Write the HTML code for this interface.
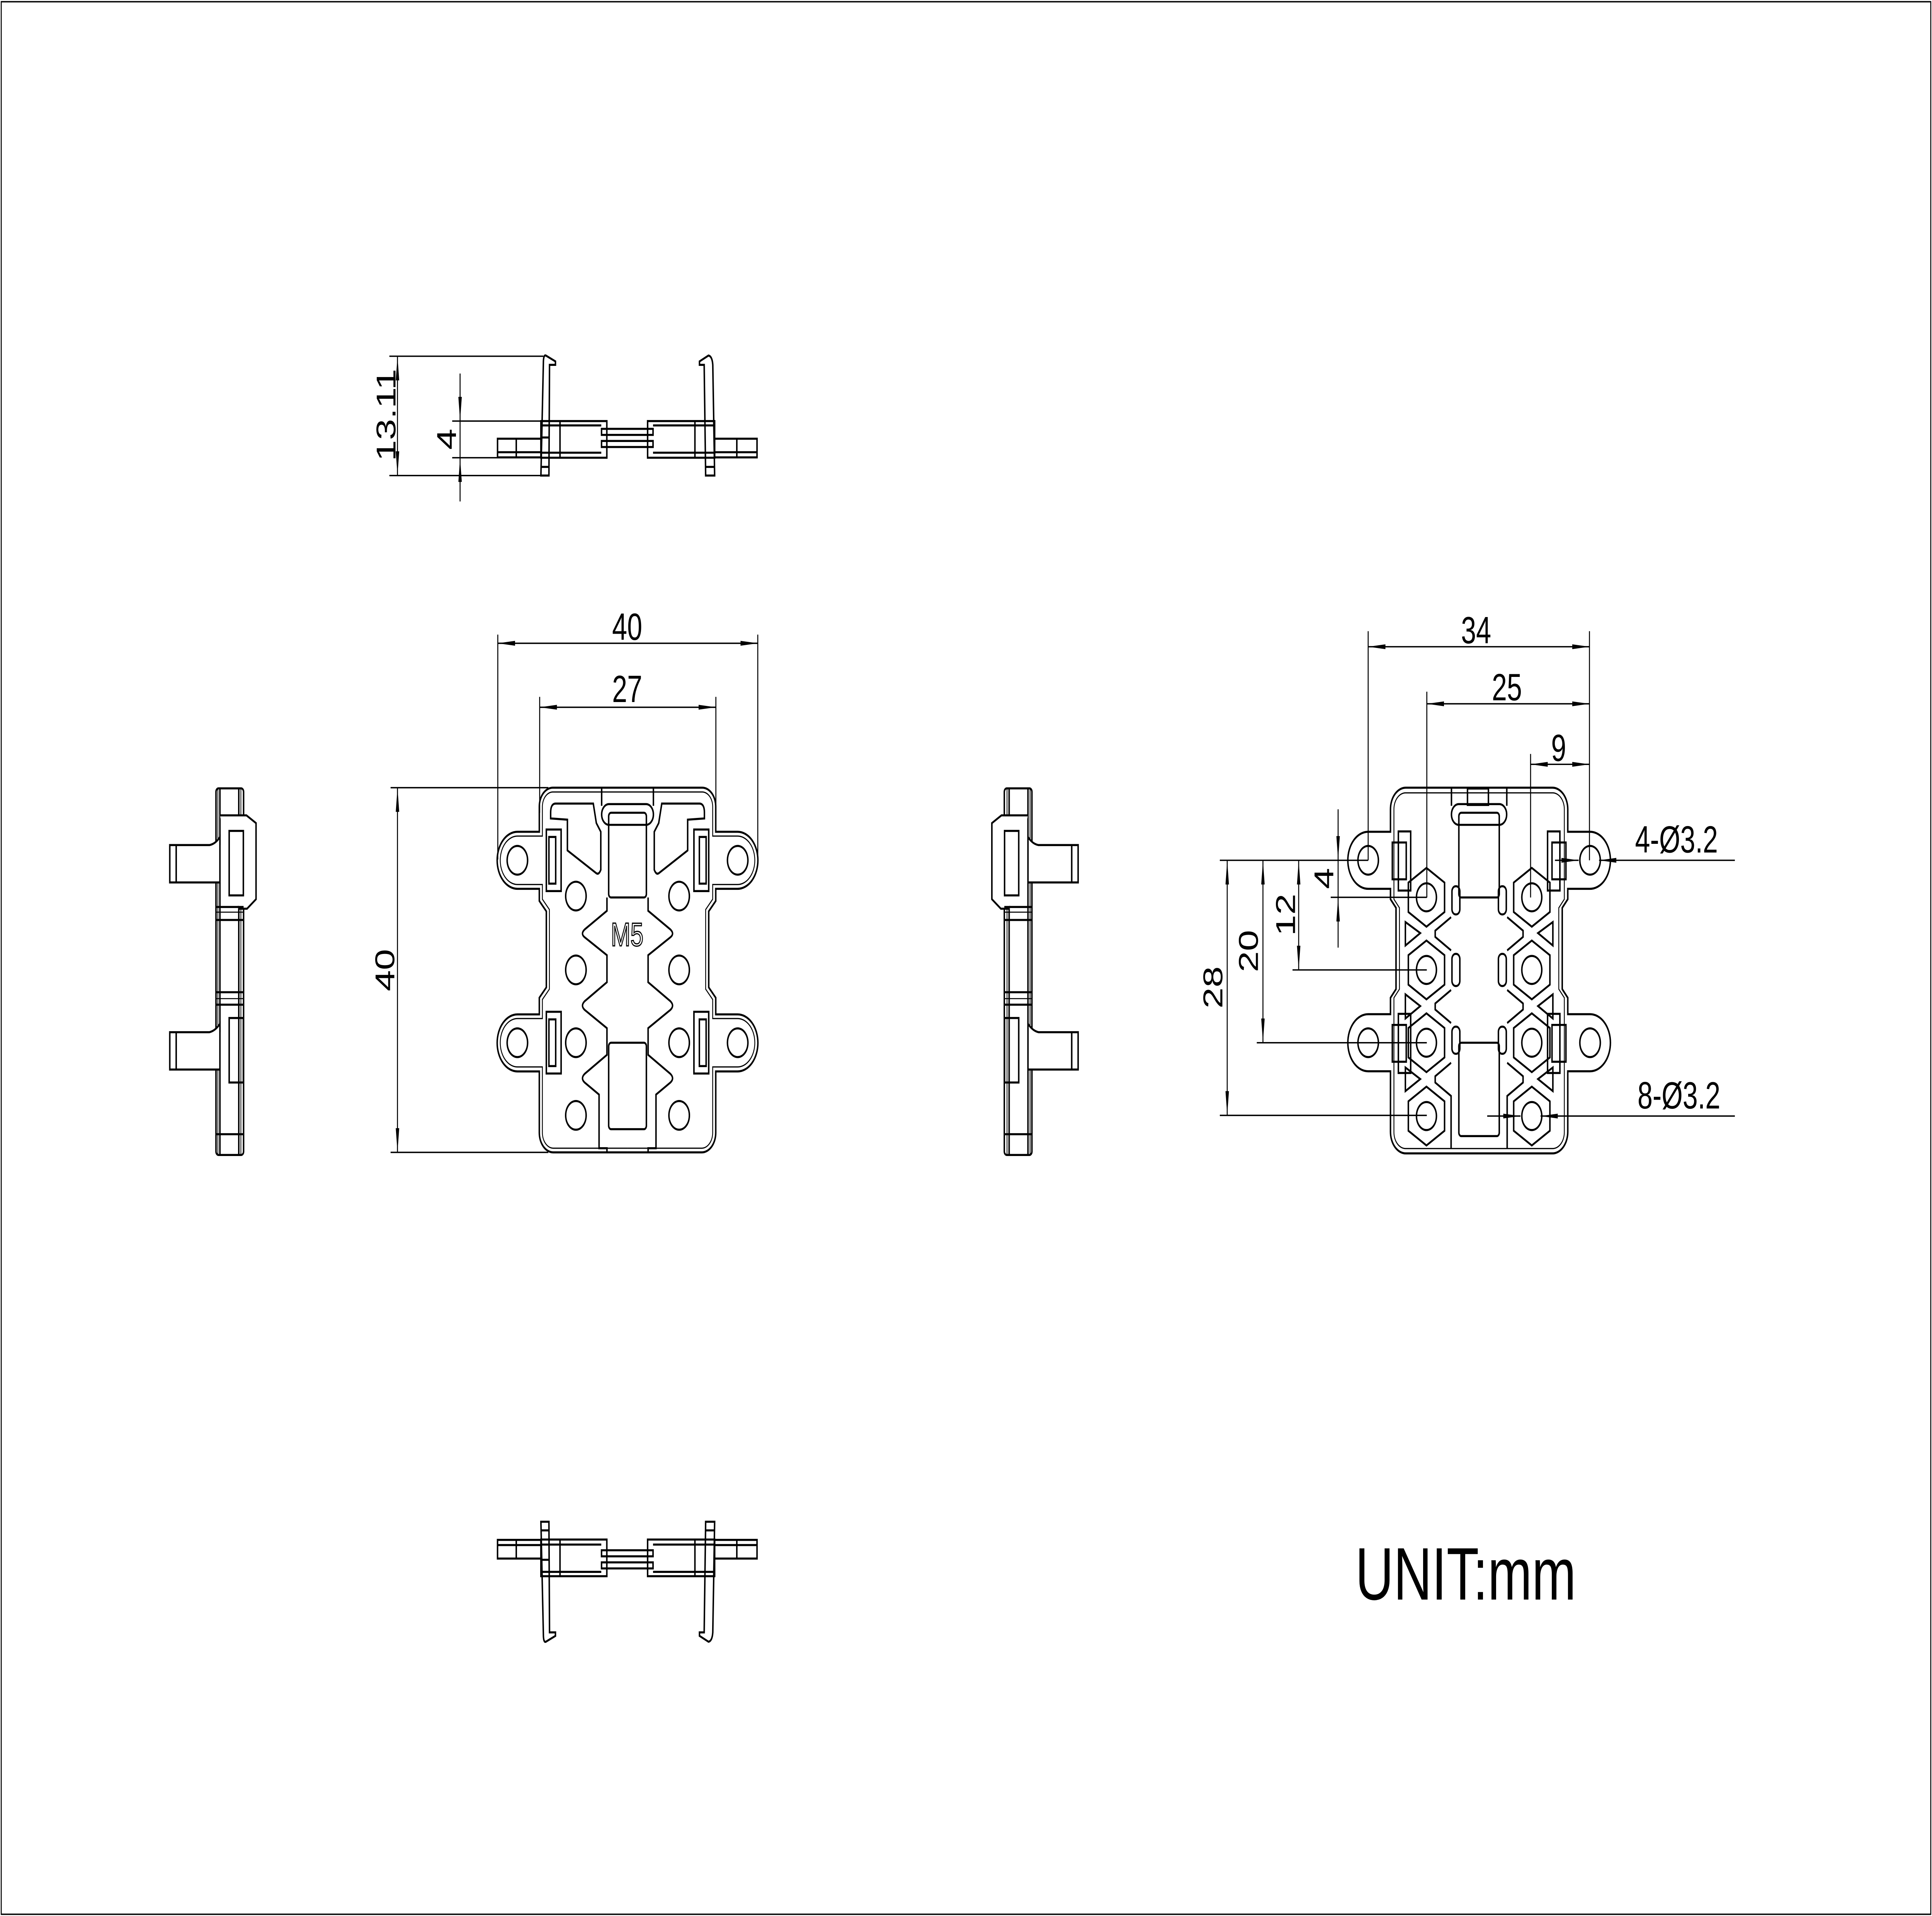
<!DOCTYPE html>
<html><head><meta charset="utf-8"><style>html,body{margin:0;padding:0;background:#fff;overflow:hidden;width:100%;height:100%}svg{display:block;position:fixed;left:0;top:0;width:100vw;height:100vh}</style></head><body>
<svg xmlns="http://www.w3.org/2000/svg" viewBox="0 0 1568 1108" preserveAspectRatio="none">
<defs>
<marker id="a" markerWidth="14" markerHeight="4" refX="14" refY="2" orient="auto-start-reverse" markerUnits="userSpaceOnUse"><path d="M0,0.6 L14,2 L0,3.4 Z" fill="#000"/></marker>
</defs>
<rect x="0" y="0" width="1568" height="1108" fill="#fff"/>
<rect x="1" y="1" width="1566" height="1106" fill="none" stroke="#000" stroke-width="0.8"/>
<g font-family="Liberation Sans, sans-serif" fill="#000" font-size="22">
<g stroke="#000" stroke-width="0.8" fill="none">
<line x1="316" y1="206" x2="441" y2="206"/><line x1="316" y1="275" x2="445" y2="275"/>
<line x1="322.6" y1="206" x2="322.6" y2="275" marker-start="url(#a)" marker-end="url(#a)"/>
<line x1="367" y1="243.5" x2="493" y2="243.5"/><line x1="367" y1="264.7" x2="440" y2="264.7"/>
<line x1="373.4" y1="216" x2="373.4" y2="243.5" marker-end="url(#a)"/>
<line x1="373.4" y1="290" x2="373.4" y2="264.7" marker-end="url(#a)"/>
<line x1="373.4" y1="243.5" x2="373.4" y2="264.7"/>
</g>
<text transform="translate(321,240) rotate(-90)" text-anchor="middle">13.11</text>
<text transform="translate(370,254) rotate(-90)" text-anchor="middle">4</text>
<g id="tv" stroke="#000" stroke-width="1.2" fill="none">
<path d="M439,275 L441,210 Q441,205 443,205.6 L450.8,209 V211 H446 L445.5,275 Z"/>
<line x1="439" y1="253" x2="445.5" y2="253"/><line x1="439" y1="270" x2="445.5" y2="270"/>
<path d="M572.7,275 L571.5,211 H567.7 V209 L575,205.6 Q578,206 578.5,211 L580,275 Z"/>
<line x1="572.5" y1="270" x2="580" y2="270"/>
<rect x="439" y="243.5" width="53.5" height="21.2"/>
<line x1="439" y1="246" x2="488" y2="246"/><line x1="439" y1="261.8" x2="488" y2="261.8"/>
<line x1="454.5" y1="243.5" x2="454.5" y2="264.7"/>
<rect x="488.2" y="248" width="41.8" height="3.5"/><rect x="488.2" y="255" width="41.8" height="3.5"/>
<rect x="525.6" y="243.5" width="54.4" height="21.2"/>
<line x1="530" y1="246" x2="580" y2="246"/><line x1="530" y1="261.8" x2="580" y2="261.8"/>
<line x1="564" y1="243.5" x2="564" y2="264.7"/>
<rect x="403.8" y="253.7" width="35.2" height="10.8"/><line x1="419" y1="253.7" x2="419" y2="264.5"/><line x1="403.8" y1="261.5" x2="439" y2="261.5"/>
<rect x="580" y="253.7" width="34.4" height="10.8"/><line x1="598" y1="253.7" x2="598" y2="264.5"/><line x1="580" y1="261.5" x2="614.4" y2="261.5"/>
</g>
<use href="#tv" transform="translate(0,1155) scale(1,-1)"/>

<g stroke="#000" stroke-width="0.8" fill="none">
<line x1="404" y1="367" x2="404" y2="497"/><line x1="615" y1="367" x2="615" y2="497"/>
<line x1="404" y1="372" x2="615" y2="372" marker-start="url(#a)" marker-end="url(#a)"/>
<line x1="438" y1="403" x2="438" y2="470"/><line x1="581" y1="403" x2="581" y2="470"/>
<line x1="438" y1="409" x2="581" y2="409" marker-start="url(#a)" marker-end="url(#a)"/>
<line x1="317" y1="455.5" x2="445" y2="455.5"/><line x1="317" y1="666.4" x2="445" y2="666.4"/>
<line x1="322.6" y1="455.5" x2="322.6" y2="666.4" marker-start="url(#a)" marker-end="url(#a)"/>
</g>
<text x="509" y="370" text-anchor="middle">40</text>
<text x="509" y="406" text-anchor="middle">27</text>
<text transform="translate(320,561) rotate(-90)" text-anchor="middle">40</text>
<g id="fvh" stroke="#000" stroke-width="1.2" fill="none">
<path d="M509.3,455.5 H449 A11,11 0 0 0 437.7,466.5 V481 H420 A16.5,16.5 0 0 0 420,514 H437.7 V521 L443.4,527 V571 L437.7,577 V586.6 H420 A16.5,16.5 0 0 0 420,619.6 H437.7 V655 A11.4,11.4 0 0 0 449,666.4 H509.3"/>
<path stroke-width="0.7" d="M509.3,458 H449 A8.5,8.5 0 0 0 440.2,466.5 V483.5 H420 A14,14 0 0 0 420,511.5 H440.2 V520 L445.9,526 V572 L440.2,578 V589 H420 A14,14 0 0 0 420,617 H440.2 V655 A9,9 0 0 0 449,664 H509.3"/>
<circle cx="419.9" cy="497.5" r="8.3"/><circle cx="419.9" cy="603" r="8.3"/>
<circle cx="467.4" cy="518.2" r="8.3"/><circle cx="467.4" cy="560.9" r="8.3"/><circle cx="467.4" cy="603" r="8.3"/><circle cx="467.4" cy="645" r="8.3"/>
<rect x="443.4" y="479.7" width="12" height="35.6"/><rect x="445.5" y="484" width="5.5" height="27"/>
<rect x="443.4" y="585.1" width="12" height="35.7"/><rect x="445.5" y="589.5" width="5.5" height="27"/>
<path d="M446.9,470 Q446.9,464.7 451,464.7 H481.5 L484,476 L487.6,481 V503 Q486,506 484,505 L460.5,491.8 V474 L446.9,473.3 Z"/>
<path d="M492.6,519 V526.7 L474.5,537.5 Q471,540 474.5,542 L492.6,552.4 V568 L474.5,579 Q471,581.6 474.5,584 L492.6,594.6 V610 L474.5,621 Q471,623.6 474.5,626 L486.2,633 V664 H492.6 V666.4"/>
<line x1="488.3" y1="455.5" x2="488.3" y2="466"/>
</g>
<use href="#fvh" transform="translate(1018.6,0) scale(-1,1)"/>
<g stroke="#000" stroke-width="1.2" fill="none">
<rect x="488.3" y="465" width="42" height="12" rx="6"/>
<rect x="494" y="470" width="30.6" height="49" rx="2"/>
<rect x="494" y="603" width="30.6" height="50" rx="2"/>
</g>
<text x="509" y="547" text-anchor="middle" font-size="19" fill="#fff" stroke="#000" stroke-width="0.7">M5</text>

<g id="sv" stroke="#000" stroke-width="1.2" fill="none">
<rect x="175.3" y="455.9" width="22.4" height="212" rx="2"/>
<line x1="176.8" y1="456" x2="176.8" y2="668" stroke-width="0.6"/>
<line x1="178.5" y1="456" x2="178.5" y2="488.7"/><line x1="178.5" y1="510.3" x2="178.5" y2="596.9"/><line x1="178.5" y1="618.5" x2="178.5" y2="668"/>
<line x1="193.8" y1="456" x2="193.8" y2="668"/><line x1="195.5" y1="456" x2="195.5" y2="668" stroke-width="0.6"/>
<path d="M137.8,488.7 H170 Q175,488 178.5,484 V510.3 Q175,510.3 170,510.3 H137.8 Z" fill="#fff"/>
<line x1="143" y1="488.7" x2="143" y2="510.3"/>
<path d="M137.8,596.9 H170 Q175,596 178.5,592 V618.5 Q175,618.5 170,618.5 H137.8 Z" fill="#fff"/>
<line x1="143" y1="596.9" x2="143" y2="618.5"/>
<path d="M178.5,471.5 H200 L207.8,476 V520 L200.5,525.5 H193.8" fill="#fff"/>
<rect x="186" y="480.5" width="11.5" height="37.3"/>
<rect x="186" y="588.7" width="11.5" height="37.3"/>
<line x1="175.3" y1="524.5" x2="197.7" y2="524.5"/><line x1="175.3" y1="527.5" x2="197.7" y2="527.5" stroke-width="0.6"/><line x1="175.3" y1="532" x2="197.7" y2="532"/>
<line x1="175.3" y1="573.8" x2="197.7" y2="573.8"/><line x1="175.3" y1="577.5" x2="197.7" y2="577.5" stroke-width="0.6"/><line x1="175.3" y1="581" x2="197.7" y2="581"/>
<line x1="175.3" y1="655.9" x2="197.7" y2="655.9"/>
</g>
<use href="#sv" transform="translate(1012.8,0) scale(-1,1)"/>

<g stroke="#000" stroke-width="0.8" fill="none">
<line x1="1110.4" y1="365" x2="1110.4" y2="497.5"/><line x1="1290" y1="365" x2="1290" y2="497.5"/>
<line x1="1158" y1="400" x2="1158" y2="519"/><line x1="1242.2" y1="436" x2="1242.2" y2="519"/>
<line x1="1110.4" y1="374" x2="1290" y2="374" marker-start="url(#a)" marker-end="url(#a)"/>
<line x1="1158" y1="407" x2="1290" y2="407" marker-start="url(#a)" marker-end="url(#a)"/>
<line x1="1242.2" y1="442" x2="1290" y2="442" marker-start="url(#a)" marker-end="url(#a)"/>
<line x1="990" y1="497.5" x2="1110.4" y2="497.5"/>
<line x1="1080" y1="518.9" x2="1158" y2="518.9"/>
<line x1="1049" y1="560.9" x2="1158" y2="560.9"/>
<line x1="1020" y1="603" x2="1158" y2="603"/>
<line x1="990" y1="645" x2="1158" y2="645"/>
<line x1="996" y1="497.5" x2="996" y2="645" marker-start="url(#a)" marker-end="url(#a)"/>
<line x1="1025" y1="497.5" x2="1025" y2="603" marker-start="url(#a)" marker-end="url(#a)"/>
<line x1="1054" y1="497.5" x2="1054" y2="560.9" marker-start="url(#a)" marker-end="url(#a)"/>
<line x1="1086" y1="468" x2="1086" y2="497.5" marker-end="url(#a)"/>
<line x1="1086" y1="548" x2="1086" y2="518.9" marker-end="url(#a)"/>
<line x1="1086" y1="497.5" x2="1086" y2="518.9"/>
<line x1="1262" y1="497.5" x2="1281.2" y2="497.5" marker-end="url(#a)"/>
<line x1="1408" y1="497.5" x2="1297.8" y2="497.5" marker-end="url(#a)"/>
<line x1="1207" y1="645.4" x2="1234" y2="645.4" marker-end="url(#a)"/>
<line x1="1408" y1="645.4" x2="1250.3" y2="645.4" marker-end="url(#a)"/>
</g>
<text x="1198" y="372" text-anchor="middle">34</text>
<text x="1223" y="405" text-anchor="middle">25</text>
<text x="1265" y="440" text-anchor="middle">9</text>
<text transform="translate(992,571) rotate(-90)" text-anchor="middle">28</text>
<text transform="translate(1021,550) rotate(-90)" text-anchor="middle">20</text>
<text transform="translate(1051,529) rotate(-90)" text-anchor="middle">12</text>
<text transform="translate(1082,508) rotate(-90)" text-anchor="middle">4</text>
<text x="1327" y="493">4-Ø3.2</text>
<text x="1329" y="641">8-Ø3.2</text>
<g id="rvh" stroke="#000" stroke-width="1.2" fill="none">
<path d="M1200.45,455.5 H1141 A12.5,12.5 0 0 0 1128.5,468 V481 H1110.4 A16.5,16.5 0 0 0 1110.4,514 H1128.5 V520 L1133,525 V572 L1128.5,577 V586.5 H1110.4 A16.5,16.5 0 0 0 1110.4,619.5 H1128.5 V654.5 A12.5,12.5 0 0 0 1141,667 H1200.45"/>
<path stroke-width="0.7" d="M1200.45,458.5 H1141 A9.5,9.5 0 0 0 1131.3,468 V520 L1135.8,525 V572 L1131.3,577 V654.5 A9.5,9.5 0 0 0 1141,664.2 H1200.45"/>
<circle cx="1110.4" cy="497.5" r="8.3"/><circle cx="1110.4" cy="603" r="8.3"/>
<g id="hx"><path d="M1157.7,501.9 L1172.4,510.4 V527.4 L1157.7,535.9 L1143,527.4 V510.4 Z"/><circle cx="1157.7" cy="518.9" r="8.1"/></g>
<use href="#hx" transform="translate(0,42)"/><use href="#hx" transform="translate(0,84.1)"/><use href="#hx" transform="translate(0,126.5)"/>
<path d="M1140.6,533.2 L1152.7,539.6 L1140.6,546.8 Z"/>
<path d="M1140.6,575 L1152.7,581.8 L1140.6,589 Z"/>
<path d="M1140.6,617.3 L1152.7,624 L1140.6,631 Z"/>
<path d="M1177.7,530.4 L1164.8,538.2 V541.8 L1177.7,549.6"/>
<path d="M1177.7,572.5 L1164.8,580.3 V583.8 L1177.7,591.6"/>
<path d="M1177.7,614.6 L1164.8,622.4 V626 L1177.7,633.8 V664"/>
<rect x="1178.4" y="512.5" width="6.4" height="16.3" rx="3"/>
<rect x="1178.4" y="551.6" width="6.4" height="18.6" rx="3"/>
<rect x="1178.4" y="593.7" width="6.4" height="15.7" rx="3"/>
<rect x="1134.9" y="480.8" width="10" height="34.2"/><rect x="1130" y="487.2" width="11.3" height="21.3"/>
<rect x="1134.9" y="586.3" width="10" height="34.2"/><rect x="1130" y="592.7" width="11.3" height="21.3"/>
<line x1="1178" y1="455.5" x2="1178" y2="466"/>
</g>
<use href="#rvh" transform="translate(2400.9,0) scale(-1,1)"/>
<g stroke="#000" stroke-width="1.2" fill="none">
<rect x="1178" y="465" width="44.8" height="12" rx="6"/>
<rect x="1184" y="470" width="32.8" height="49" rx="2"/>
<rect x="1184" y="603" width="32.8" height="54" rx="2"/>
<rect x="1191" y="456" width="17" height="9.5"/>
</g>
<text x="1100" y="925" font-size="43">UNIT:mm</text>
</g>
</svg>
</body></html>
